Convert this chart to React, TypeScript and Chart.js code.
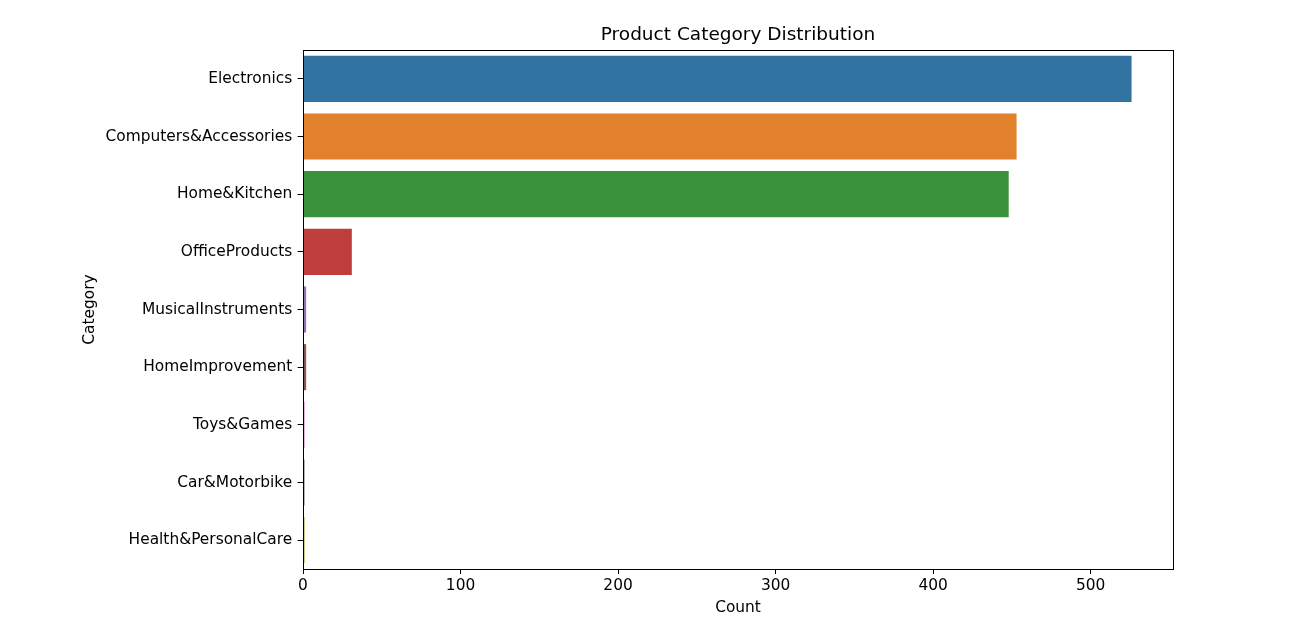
import React, { useEffect, useRef } from "react";
import { Chart, registerables } from "chart.js";

Chart.register(...registerables);

const categories = [
  "Electronics",
  "Computers&Accessories",
  "Home&Kitchen",
  "OfficeProducts",
  "MusicalInstruments",
  "HomeImprovement",
  "Toys&Games",
  "Car&Motorbike",
  "Health&PersonalCare",
];
const counts = [526, 453, 448, 31, 2, 2, 1, 1, 1];
const barColors = [
  "#3274a1",
  "#e1812c",
  "#3a923a",
  "#c03d3e",
  "#9372b2",
  "#845b53",
  "#d684bd",
  "#7f7f7f",
  "#a9aa35",
];
const xTicks = [0, 100, 200, 300, 400, 500];
const xMax = 552.3;
const chartTitle = "Product Category Distribution";

const FONT = "'DejaVu Sans', sans-serif";
const TICK_SIZE = 15.4;
const TITLE_SIZE = 18.5;

const framePlugin = {
  id: "frame",
  afterDatasetsDraw(chart: any) {
    const { ctx, chartArea } = chart;
    ctx.save();
    ctx.strokeStyle = "#000";
    ctx.lineWidth = 1;
    ctx.strokeRect(
      Math.round(chartArea.left) + 0.5,
      Math.round(chartArea.top) + 0.5,
      Math.round(chartArea.right - chartArea.left),
      Math.round(chartArea.bottom - chartArea.top)
    );
    // Title centered over the plot area (matplotlib style)
    ctx.fillStyle = "#000";
    ctx.font = `${TITLE_SIZE}px ${FONT}`;
    ctx.textAlign = "center";
    ctx.textBaseline = "middle";
    ctx.fillText(chartTitle, (chartArea.left + chartArea.right) / 2, 35);
    ctx.restore();
  },
};

export default function App() {
  const ref = useRef<HTMLCanvasElement>(null);
  useEffect(() => {
    if (!ref.current) return;
    const chart = new Chart(ref.current, {
      type: "bar",
      data: {
        labels: categories,
        datasets: [
          {
            data: counts,
            backgroundColor: barColors,
            borderWidth: 0,
            barPercentage: 0.8,
            categoryPercentage: 1.0,
          },
        ],
      },
      options: {
        indexAxis: "y",
        animation: false,
        responsive: true,
        maintainAspectRatio: false,
        layout: { padding: { left: 0, right: 123, top: 50, bottom: 0 } },
        plugins: {
          legend: { display: false },
          tooltip: { enabled: false },
          title: { display: false },
        },
        scales: {
          x: {
            type: "linear",
            min: 0,
            max: xMax,
            afterBuildTicks: (scale: any) => {
              scale.ticks = xTicks.map((v) => ({ value: v }));
            },
            afterFit: (scale: any) => {
              scale.height = 49;
            },
            grid: {
              display: true,
              drawOnChartArea: false,
              drawTicks: true,
              tickLength: 5,
              tickColor: "#000",
              tickWidth: 1,
            },
            border: { display: true, color: "#000", width: 1 },
            ticks: {
              color: "#000",
              padding: 3,
              font: { family: FONT, size: TICK_SIZE },
              maxRotation: 0,
            },
            title: {
              display: true,
              text: "Count",
              color: "#000",
              font: { family: FONT, size: TICK_SIZE },
              padding: { top: 0, bottom: 0.8 },
            },
          },
          y: {
            type: "category",
            offset: true,
            afterFit: (scale: any) => {
              scale.width = 303;
            },
            grid: {
              display: true,
              offset: false,
              drawOnChartArea: false,
              drawTicks: true,
              tickLength: 5.4,
              tickColor: "#000",
              tickWidth: 1,
            },
            border: { display: true, color: "#000", width: 1 },
            ticks: {
              color: "#000",
              padding: 5.4,
              font: { family: FONT, size: TICK_SIZE },
              autoSkip: false,
            },
            title: {
              display: true,
              text: "Category",
              color: "#000",
              font: { family: FONT, size: TICK_SIZE },
              padding: { top: 80.7, bottom: 0 },
            },
          },
        },
      },
      plugins: [framePlugin],
    } as any);
    return () => chart.destroy();
  }, []);

  return (
    <div
      style={{
        position: "absolute",
        top: 0,
        left: 0,
        width: 1296,
        height: 618,
        background: "#fff",
      }}
    >
      <canvas ref={ref} />
    </div>
  );
}
